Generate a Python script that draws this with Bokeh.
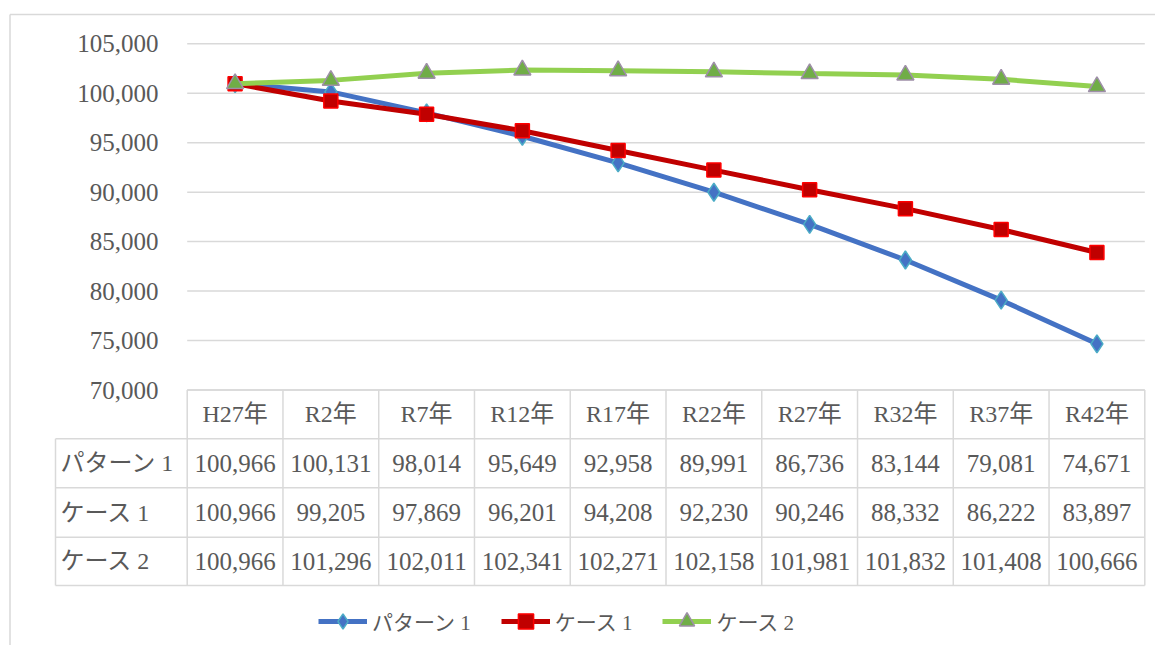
from bokeh.plotting import figure
from bokeh.models import Range1d, Legend, LegendItem
from bokeh.core.properties import value
from bokeh.embed import file_html
from bokeh.resources import INLINE

# ---------------- data ----------------
categories = ["H27年", "R2年", "R7年", "R12年", "R17年", "R22年", "R27年", "R32年", "R37年", "R42年"]
series_names = ["パターン 1", "ケース 1", "ケース 2"]
pattern1 = [100966, 100131, 98014, 95649, 92958, 89991, 86736, 83144, 79081, 74671]
case1 = [100966, 99205, 97869, 96201, 94208, 92230, 90246, 88332, 86222, 83897]
case2 = [100966, 101296, 102011, 102341, 102271, 102158, 101981, 101832, 101408, 100666]
y_ticks = [70000, 75000, 80000, 85000, 90000, 95000, 100000, 105000]

# ---------------- layout helpers (page pixels -> data) ----------------
W, H = 1155, 645
OFF = 0
CELL_L, CELL_W = 186.7, 95.76
Y100, PXU = 92.7, 49.47 / 5000.0


def px_x(px):
    return (px - CELL_L) / CELL_W - 0.5


def px_y(py):
    return 100000 + (Y100 - py) / PXU


FONT = value("Liberation Serif, Noto Sans CJK JP")
TXT = "#595959"
GRID = "#d9d9d9"

p = figure(width=W, height=H, output_backend="svg", toolbar_location=None,
           x_axis_type=None, y_axis_type=None,
           x_range=Range1d(px_x(OFF), px_x(OFF + W)),
           y_range=Range1d(px_y(OFF + H), px_y(OFF)),
           min_border=0, min_border_left=0, min_border_right=0,
           min_border_top=0, min_border_bottom=0)
p.outline_line_color = None
p.grid.visible = False
p.background_fill_color = "white"
p.border_fill_color = "white"

n = len(categories)
xs = list(range(n))

# outer chart border (left & top visible)
p.segment(x0=[px_x(9.5), px_x(9.5)], y0=[px_y(14), px_y(14)],
          x1=[px_x(9.5), px_x(1170)], y1=[px_y(700), px_y(14)],
          line_color=GRID, line_width=1.5)

# horizontal gridlines
p.segment(x0=[-0.5] * len(y_ticks), x1=[n - 0.5] * len(y_ticks), y0=y_ticks, y1=y_ticks,
          line_color=GRID, line_width=1.5)

# y tick labels
p.text(x=[px_x(158)] * len(y_ticks), y=y_ticks, text=[f"{v:,}" for v in y_ticks],
       text_align="right", text_baseline="middle", text_font=FONT,
       text_font_size="25px", text_color=TXT)

# ---------------- data table ----------------
row_edges = [389.5, 438.3, 487.3, 536.7, 585.0]
label_left = 55.0
hx0, hx1, hy = [], [], []
for i, ry in enumerate(row_edges):
    hx0.append(-0.5 if i == 0 else px_x(label_left))
    hx1.append(n - 0.5)
    hy.append(px_y(ry))
p.segment(x0=hx0, x1=hx1, y0=hy, y1=hy, line_color=GRID, line_width=1.5)
vx = [i - 0.5 for i in range(n + 1)] + [px_x(label_left)]
vy0 = [px_y(row_edges[0])] * (n + 1) + [px_y(row_edges[1])]
vy1 = [px_y(row_edges[-1])] * (n + 2)
p.segment(x0=vx, x1=vx, y0=vy0, y1=vy1, line_color=GRID, line_width=1.5)

hc = (row_edges[0] + row_edges[1]) / 2
p.text(x=xs, y=[px_y(hc)] * n, text=categories, text_align="center", text_baseline="middle",
       text_font=FONT, text_font_size="24px", text_color=TXT)

for r, vals in enumerate([pattern1, case1, case2]):
    cy = px_y((row_edges[r + 1] + row_edges[r + 2]) / 2)
    p.text(x=xs, y=[cy] * n, text=[f"{v:,}" for v in vals], text_align="center",
           text_baseline="middle", text_font=FONT, text_font_size="25px", text_color=TXT)
    p.text(x=[px_x(60)], y=[cy], text=[series_names[r]], text_align="left",
           text_baseline="middle", text_font=FONT, text_font_size="24px", text_color=TXT)

# ---------------- series ----------------
l1 = p.line(xs, pattern1, line_color="#4472C4", line_width=5)
m1 = p.scatter(xs, pattern1, marker="diamond", size=18, fill_color="#4472C4",
               line_color="#4BACC6", line_width=1.5)
l2 = p.line(xs, case1, line_color="#C00000", line_width=5)
m2 = p.scatter(xs, case1, marker="square", size=14, fill_color="#C00000",
               line_color="#FF0000", line_width=1.5)
l3 = p.line(xs, case2, line_color="#92D050", line_width=5)
m3 = p.scatter(xs, case2, marker="triangle", size=17, fill_color="#70AD47",
               line_color="#9E8FA8", line_width=1.5)

legend = Legend(items=[
    LegendItem(label=series_names[0], renderers=[l1, m1]),
    LegendItem(label=series_names[1], renderers=[l2, m2]),
    LegendItem(label=series_names[2], renderers=[l3, m3]),
], orientation="horizontal", location=(318, 5), glyph_width=49, glyph_height=38,
    label_standoff=5, spacing=30, padding=0, margin=0,
    border_line_alpha=0, background_fill_alpha=0,
    label_text_font="Liberation Serif, Noto Sans CJK JP", label_text_font_size="21px",
    label_text_color=TXT)
p.add_layout(legend)

open("out.html", "w").write(file_html(p, INLINE))
